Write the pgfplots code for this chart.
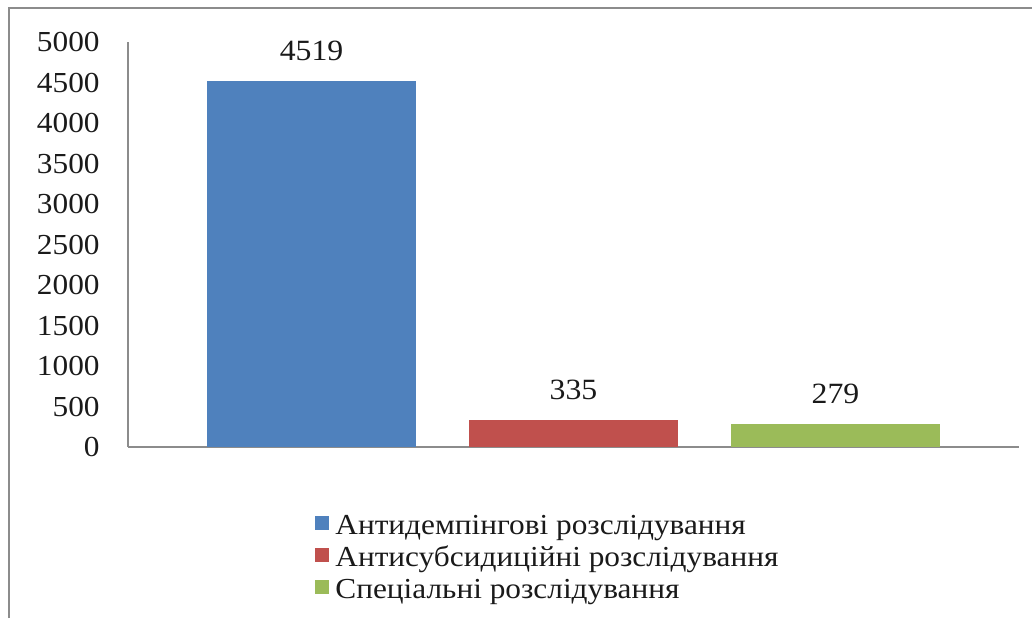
\documentclass[border=0pt]{standalone}
\usepackage{pgfplots}
\pgfplotsset{compat=1.18}
\usepackage{fontspec}
\setmainfont[FakeStretch=1.08]{Liberation Serif}
\definecolor{cblue}{HTML}{4F81BD}
\definecolor{cred}{HTML}{C0504D}
\definecolor{cgreen}{HTML}{9BBB59}
\definecolor{axgray}{HTML}{8C8C8C}
\definecolor{txt}{HTML}{1A1A1A}
\begin{document}
\begin{tikzpicture}
\useasboundingbox (0pt,0pt) rectangle (516pt,-309pt);
\draw[axgray, line width=0.9pt] (4.5pt,-309pt) -- (4.5pt,-4pt) -- (516pt,-4pt);
\begin{axis}[
  at={(64pt,-223.5pt)}, anchor=south west,
  scale only axis, width=445.5pt, height=202.5pt,
  xmin=0.2996, xmax=3.7004, ymin=0, ymax=5000,
  ybar, bar width=0.8, bar shift=0pt,
  axis lines*=left,
  axis line style={axgray, line width=0.8pt, -},
  xtick=\empty, ytick={0,500,...,5000},
  major tick length=0pt,
  /pgf/number format/.cd, 1000 sep={}, assume math mode=true, /pgfplots/.cd,
  yticklabel style={font=\fontsize{14.5}{15}\selectfont, inner sep=0pt, xshift=-14pt, text=txt},
  nodes near coords,
  nodes near coords style={font=\fontsize{14.7}{15}\selectfont, inner sep=0pt, yshift=10pt, text=txt},
  legend style={at={(axis description cs:0.2099,-0.16)}, anchor=north west, draw=none, fill=none,
    inner sep=0pt, column sep=3pt, font=\fontsize{14.5}{16}\selectfont, text=txt,
    nodes={inner sep=0pt, text height=11pt, text depth=5pt}},
  legend cell align=left,
  legend image code/.code={\fill[#1] (0pt,-1pt) rectangle (7pt,6pt);},
]
\addplot[fill=cblue, draw=none] coordinates {(1,4519)};
\addplot[fill=cred, draw=none] coordinates {(2,335)};
\addplot[fill=cgreen, draw=none] coordinates {(3,279)};
\legend{Антидемпінгові розслідування, Антисубсидиційні розслідування, Спеціальні розслідування}
\end{axis}
\end{tikzpicture}
\end{document}
